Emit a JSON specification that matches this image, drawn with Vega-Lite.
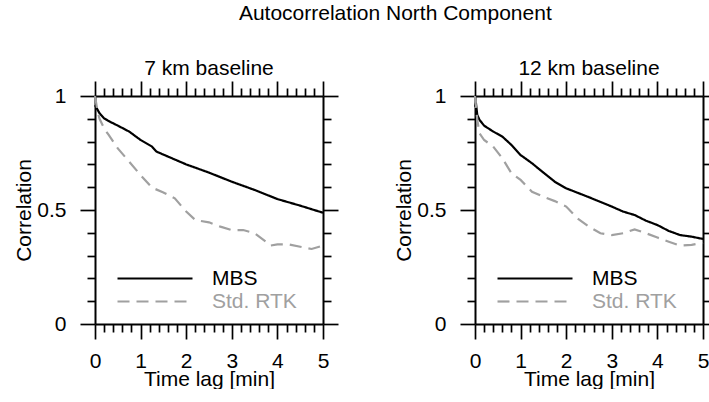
{
  "$schema": "https://vega.github.io/schema/vega-lite/v6.json",
  "padding": {"left": 13, "top": 3, "right": 0, "bottom": 0},
  "background": "white",
  "title": {"text": "Autocorrelation North Component", "anchor": "middle", "fontSize": 21, "offset": 34, "dx": 29},
  "config": {
    "font": "Liberation Sans",
    "view": {"stroke": null},
    "title": {"font": "Liberation Sans", "fontSize": 21, "fontWeight": "normal", "color": "black"},
    "axis": {
      "grid": false,
      "domainColor": "black",
      "domainWidth": 2,
      "tickColor": "black",
      "tickWidth": 1.7,
      "labelFont": "Liberation Sans",
      "labelFontSize": 21,
      "labelColor": "black",
      "titleFont": "Liberation Sans",
      "titleFontSize": 21,
      "titleFontWeight": "normal",
      "titleColor": "black",
      "labelOverlap": false,
      "labelFlush": false,
      "labelBound": false
    },
    "legend": {
      "labelFont": "Liberation Sans",
      "labelFontSize": 21
    }
  },
  "datasets": {
    "d7": [
      {"t": 0, "c": 0.960, "series": "MBS"},
      {"t": 0.1, "c": 0.924, "series": "MBS"},
      {"t": 0.2, "c": 0.902, "series": "MBS"},
      {"t": 0.3, "c": 0.890, "series": "MBS"},
      {"t": 0.5, "c": 0.870, "series": "MBS"},
      {"t": 0.75, "c": 0.844, "series": "MBS"},
      {"t": 1, "c": 0.807, "series": "MBS"},
      {"t": 1.25, "c": 0.778, "series": "MBS"},
      {"t": 1.35, "c": 0.756, "series": "MBS"},
      {"t": 1.5, "c": 0.743, "series": "MBS"},
      {"t": 2, "c": 0.700, "series": "MBS"},
      {"t": 2.5, "c": 0.664, "series": "MBS"},
      {"t": 3, "c": 0.624, "series": "MBS"},
      {"t": 3.5, "c": 0.588, "series": "MBS"},
      {"t": 4, "c": 0.548, "series": "MBS"},
      {"t": 4.5, "c": 0.519, "series": "MBS"},
      {"t": 5, "c": 0.488, "series": "MBS"},
      {"t": 0, "c": 1.0, "series": "Std. RTK"},
      {"t": 0.05, "c": 0.94, "series": "Std. RTK"},
      {"t": 0.1, "c": 0.90, "series": "Std. RTK"},
      {"t": 0.2, "c": 0.858, "series": "Std. RTK"},
      {"t": 0.3, "c": 0.829, "series": "Std. RTK"},
      {"t": 0.5, "c": 0.770, "series": "Std. RTK"},
      {"t": 0.75, "c": 0.712, "series": "Std. RTK"},
      {"t": 1, "c": 0.653, "series": "Std. RTK"},
      {"t": 1.25, "c": 0.598, "series": "Std. RTK"},
      {"t": 1.5, "c": 0.577, "series": "Std. RTK"},
      {"t": 1.75, "c": 0.551, "series": "Std. RTK"},
      {"t": 2, "c": 0.493, "series": "Std. RTK"},
      {"t": 2.2, "c": 0.456, "series": "Std. RTK"},
      {"t": 2.5, "c": 0.446, "series": "Std. RTK"},
      {"t": 2.75, "c": 0.427, "series": "Std. RTK"},
      {"t": 3, "c": 0.412, "series": "Std. RTK"},
      {"t": 3.25, "c": 0.412, "series": "Std. RTK"},
      {"t": 3.5, "c": 0.398, "series": "Std. RTK"},
      {"t": 3.75, "c": 0.361, "series": "Std. RTK"},
      {"t": 3.85, "c": 0.344, "series": "Std. RTK"},
      {"t": 4, "c": 0.349, "series": "Std. RTK"},
      {"t": 4.25, "c": 0.349, "series": "Std. RTK"},
      {"t": 4.5, "c": 0.339, "series": "Std. RTK"},
      {"t": 4.75, "c": 0.329, "series": "Std. RTK"},
      {"t": 5, "c": 0.344, "series": "Std. RTK"}
    ],
    "d12": [
      {"t": 0, "c": 0.953, "series": "MBS"},
      {"t": 0.02, "c": 0.970, "series": "MBS"},
      {"t": 0.05, "c": 0.917, "series": "MBS"},
      {"t": 0.1, "c": 0.895, "series": "MBS"},
      {"t": 0.2, "c": 0.870, "series": "MBS"},
      {"t": 0.4, "c": 0.844, "series": "MBS"},
      {"t": 0.6, "c": 0.822, "series": "MBS"},
      {"t": 0.8, "c": 0.785, "series": "MBS"},
      {"t": 1, "c": 0.741, "series": "MBS"},
      {"t": 1.25, "c": 0.705, "series": "MBS"},
      {"t": 1.5, "c": 0.664, "series": "MBS"},
      {"t": 1.75, "c": 0.624, "series": "MBS"},
      {"t": 2, "c": 0.595, "series": "MBS"},
      {"t": 2.5, "c": 0.556, "series": "MBS"},
      {"t": 3, "c": 0.515, "series": "MBS"},
      {"t": 3.25, "c": 0.493, "series": "MBS"},
      {"t": 3.5, "c": 0.478, "series": "MBS"},
      {"t": 3.75, "c": 0.453, "series": "MBS"},
      {"t": 4, "c": 0.434, "series": "MBS"},
      {"t": 4.25, "c": 0.408, "series": "MBS"},
      {"t": 4.5, "c": 0.390, "series": "MBS"},
      {"t": 4.75, "c": 0.383, "series": "MBS"},
      {"t": 5, "c": 0.373, "series": "MBS"},
      {"t": 0, "c": 1.0, "series": "Std. RTK"},
      {"t": 0.05, "c": 0.895, "series": "Std. RTK"},
      {"t": 0.1, "c": 0.836, "series": "Std. RTK"},
      {"t": 0.2, "c": 0.807, "series": "Std. RTK"},
      {"t": 0.4, "c": 0.778, "series": "Std. RTK"},
      {"t": 0.6, "c": 0.727, "series": "Std. RTK"},
      {"t": 0.8, "c": 0.661, "series": "Std. RTK"},
      {"t": 1, "c": 0.632, "series": "Std. RTK"},
      {"t": 1.25, "c": 0.580, "series": "Std. RTK"},
      {"t": 1.5, "c": 0.558, "series": "Std. RTK"},
      {"t": 1.75, "c": 0.539, "series": "Std. RTK"},
      {"t": 2, "c": 0.515, "series": "Std. RTK"},
      {"t": 2.25, "c": 0.463, "series": "Std. RTK"},
      {"t": 2.5, "c": 0.427, "series": "Std. RTK"},
      {"t": 2.75, "c": 0.398, "series": "Std. RTK"},
      {"t": 3, "c": 0.390, "series": "Std. RTK"},
      {"t": 3.25, "c": 0.398, "series": "Std. RTK"},
      {"t": 3.5, "c": 0.415, "series": "Std. RTK"},
      {"t": 3.75, "c": 0.398, "series": "Std. RTK"},
      {"t": 4, "c": 0.379, "series": "Std. RTK"},
      {"t": 4.25, "c": 0.361, "series": "Std. RTK"},
      {"t": 4.5, "c": 0.344, "series": "Std. RTK"},
      {"t": 4.75, "c": 0.347, "series": "Std. RTK"},
      {"t": 5, "c": 0.357, "series": "Std. RTK"}
    ]
  },
  "bounds": "flush",
  "spacing": 152,
  "resolve": {"scale": {"color": "independent", "strokeDash": "independent"}, "legend": {"color": "independent", "strokeDash": "independent"}},
  "hconcat": [
    {
      "title": {"text": "7 km baseline", "anchor": "middle", "offset": 1},
      "width": 228,
      "height": 228,
      "data": {"name": "d7"},
      "encoding": {
        "color": {"field": "series", "type": "nominal", "scale": {"domain": ["MBS", "Std. RTK"], "range": ["#000000", "#a0a0a0"]},
          "legend": {"title": null, "orient": "none", "legendX": 49.5, "legendY": 172, "padding": 0, "symbolType": "M-7.5,0H7.5", "symbolSize": 100, "symbolStrokeWidth": 2.2, "labelOffset": 46.5, "rowPadding": 1, "labelColor": {"expr": "datum.value === 'MBS' ? '#000000' : '#a0a0a0'"}}},
        "strokeDash": {"field": "series", "type": "nominal", "scale": {"domain": ["MBS", "Std. RTK"], "range": [[1, 0], [12, 7]]},
          "legend": {"title": null, "orient": "none", "legendX": 49.5, "legendY": 172, "padding": 0, "symbolType": "M-7.5,0H7.5", "symbolSize": 100, "symbolStrokeWidth": 2.2, "labelOffset": 46.5, "rowPadding": 1, "labelColor": {"expr": "datum.value === 'MBS' ? '#000000' : '#a0a0a0'"}}}
      },
      "layer": [
        {
          "transform": [{"filter": "datum.series === 'MBS'"}],
          "mark": {"type": "line", "strokeWidth": 2.2},
          "encoding": {
            "x": {"field": "t", "type": "quantitative", "scale": {"domain": [0, 5], "nice": false, "zero": false},
              "axis": {"orient": "bottom", "title": "Time lag [min]", "values": [0,0.2,0.4,0.6,0.8,1,1.2,1.4,1.6,1.8,2,2.2,2.4,2.6,2.8,3,3.2,3.4,3.6,3.8,4,4.2,4.4,4.6,4.8,5],
                "tickSize": {"condition": {"test": "abs(datum.value - round(datum.value)) < 0.001", "value": 15}, "value": 8},
                "labelExpr": "abs(datum.value - round(datum.value)) < 0.001 ? format(datum.value, '~g') : ''",
                "labelPadding": 11, "titlePadding": -3}},
            "y": {"field": "c", "type": "quantitative", "scale": {"domain": [0, 1], "nice": false},
              "axis": {"orient": "left", "title": "Correlation", "values": [0,0.1,0.2,0.3,0.4,0.5,0.6,0.7,0.8,0.9,1],
                "tickSize": {"condition": {"test": "abs(datum.value*2 - round(datum.value*2)) < 0.001", "value": 15}, "value": 8},
                "labelExpr": "abs(datum.value*2 - round(datum.value*2)) < 0.001 ? format(datum.value, '~g') : ''",
                "labelPadding": 14, "titlePadding": 2}}
          }
        },
        {
          "transform": [{"filter": "datum.series === 'Std. RTK'"}],
          "mark": {"type": "line", "strokeWidth": 2.2},
          "encoding": {
            "x": {"field": "t", "type": "quantitative", "scale": {"domain": [0, 5], "nice": false, "zero": false},
              "axis": {"orient": "top", "title": null, "labels": false, "values": [0,0.2,0.4,0.6,0.8,1,1.2,1.4,1.6,1.8,2,2.2,2.4,2.6,2.8,3,3.2,3.4,3.6,3.8,4,4.2,4.4,4.6,4.8,5],
                "tickSize": {"condition": {"test": "abs(datum.value - round(datum.value)) < 0.001", "value": 15}, "value": 8}}},
            "y": {"field": "c", "type": "quantitative", "scale": {"domain": [0, 1], "nice": false},
              "axis": {"orient": "right", "title": null, "labels": false, "values": [0,0.1,0.2,0.3,0.4,0.5,0.6,0.7,0.8,0.9,1],
                "tickSize": {"condition": {"test": "abs(datum.value*2 - round(datum.value*2)) < 0.001", "value": 15}, "value": 8}}}
          }
        }
      ],
      "resolve": {"axis": {"x": "independent", "y": "independent"}}
    },
    {
      "title": {"text": "12 km baseline", "anchor": "middle", "offset": 1},
      "width": 228,
      "height": 228,
      "data": {"name": "d12"},
      "encoding": {
        "color": {"field": "series", "type": "nominal", "scale": {"domain": ["MBS", "Std. RTK"], "range": ["#000000", "#a0a0a0"]},
          "legend": {"title": null, "orient": "none", "legendX": 49.5, "legendY": 172, "padding": 0, "symbolType": "M-7.5,0H7.5", "symbolSize": 100, "symbolStrokeWidth": 2.2, "labelOffset": 46.5, "rowPadding": 1, "labelColor": {"expr": "datum.value === 'MBS' ? '#000000' : '#a0a0a0'"}}},
        "strokeDash": {"field": "series", "type": "nominal", "scale": {"domain": ["MBS", "Std. RTK"], "range": [[1, 0], [12, 7]]},
          "legend": {"title": null, "orient": "none", "legendX": 49.5, "legendY": 172, "padding": 0, "symbolType": "M-7.5,0H7.5", "symbolSize": 100, "symbolStrokeWidth": 2.2, "labelOffset": 46.5, "rowPadding": 1, "labelColor": {"expr": "datum.value === 'MBS' ? '#000000' : '#a0a0a0'"}}}
      },
      "layer": [
        {
          "transform": [{"filter": "datum.series === 'MBS'"}],
          "mark": {"type": "line", "strokeWidth": 2.2},
          "encoding": {
            "x": {"field": "t", "type": "quantitative", "scale": {"domain": [0, 5], "nice": false, "zero": false},
              "axis": {"orient": "bottom", "title": "Time lag [min]", "values": [0,0.2,0.4,0.6,0.8,1,1.2,1.4,1.6,1.8,2,2.2,2.4,2.6,2.8,3,3.2,3.4,3.6,3.8,4,4.2,4.4,4.6,4.8,5],
                "tickSize": {"condition": {"test": "abs(datum.value - round(datum.value)) < 0.001", "value": 15}, "value": 8},
                "labelExpr": "abs(datum.value - round(datum.value)) < 0.001 ? format(datum.value, '~g') : ''",
                "labelPadding": 11, "titlePadding": -3}},
            "y": {"field": "c", "type": "quantitative", "scale": {"domain": [0, 1], "nice": false},
              "axis": {"orient": "left", "title": "Correlation", "values": [0,0.1,0.2,0.3,0.4,0.5,0.6,0.7,0.8,0.9,1],
                "tickSize": {"condition": {"test": "abs(datum.value*2 - round(datum.value*2)) < 0.001", "value": 15}, "value": 8},
                "labelExpr": "abs(datum.value*2 - round(datum.value*2)) < 0.001 ? format(datum.value, '~g') : ''",
                "labelPadding": 14, "titlePadding": 2}}
          }
        },
        {
          "transform": [{"filter": "datum.series === 'Std. RTK'"}],
          "mark": {"type": "line", "strokeWidth": 2.2},
          "encoding": {
            "x": {"field": "t", "type": "quantitative", "scale": {"domain": [0, 5], "nice": false, "zero": false},
              "axis": {"orient": "top", "title": null, "labels": false, "values": [0,0.2,0.4,0.6,0.8,1,1.2,1.4,1.6,1.8,2,2.2,2.4,2.6,2.8,3,3.2,3.4,3.6,3.8,4,4.2,4.4,4.6,4.8,5],
                "tickSize": {"condition": {"test": "abs(datum.value - round(datum.value)) < 0.001", "value": 15}, "value": 8}}},
            "y": {"field": "c", "type": "quantitative", "scale": {"domain": [0, 1], "nice": false},
              "axis": {"orient": "right", "title": null, "labels": false, "values": [0,0.1,0.2,0.3,0.4,0.5,0.6,0.7,0.8,0.9,1],
                "tickSize": {"condition": {"test": "abs(datum.value*2 - round(datum.value*2)) < 0.001", "value": 15}, "value": 8}}}
          }
        }
      ],
      "resolve": {"axis": {"x": "independent", "y": "independent"}}
    }
  ]
}
